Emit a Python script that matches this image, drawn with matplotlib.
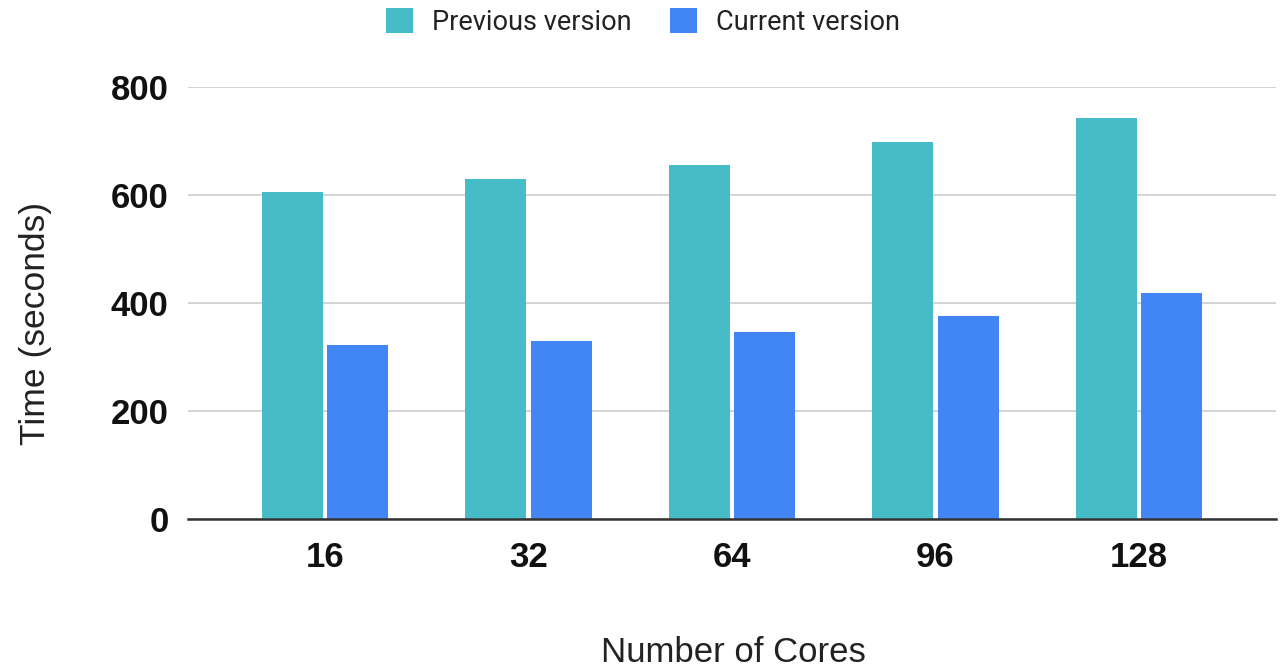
import matplotlib
matplotlib.use("Agg")
import matplotlib.pyplot as plt
import numpy as np

cores = ["16", "32", "64", "96", "128"]
previous_version = [605, 630, 656, 698, 743]
current_version = [322, 330, 346, 376, 418]
y_ticks = [0, 200, 400, 600, 800]

teal = "#46BDC6"
blue = "#4285F4"

fig = plt.figure(figsize=(12.88, 6.71), dpi=100)
ax = fig.add_axes([188 / 1288, 1 - 519 / 671, (1276 - 188) / 1288, (519 - 87) / 671])

x = np.arange(len(cores))
width = 0.30
offset = 0.16
ax.bar(x - offset, previous_version, width, color=teal, label="Previous version", zorder=3)
ax.bar(x + offset, current_version, width, color=blue, label="Current version", zorder=3)

ax.set_xlim(-0.673, len(cores) - 1 + 0.673)
ax.set_ylim(0, 800)
ax.set_yticks(y_ticks)
ax.set_yticklabels([str(v) for v in y_ticks], fontsize=25, fontweight="bold",
                   family="Liberation Sans")
ax.set_xticks(x)
ax.set_xticklabels(cores, fontsize=25, fontweight="bold", family="Liberation Sans")
ax.tick_params(axis="y", length=0, pad=14, colors="#111111")
ax.tick_params(axis="x", length=0, pad=16, colors="#111111")

ax.grid(axis="y", color="#cccccc", linewidth=1.2, zorder=0)
ax.set_axisbelow(True)
for side in ["top", "right", "left"]:
    ax.spines[side].set_visible(False)
ax.spines["bottom"].set_color("#333333")
ax.spines["bottom"].set_linewidth(1.8)
ax.spines["bottom"].set_zorder(4)

fig.text(36 / 1288, 1 - 323 / 671, "Time (seconds)", fontsize=25.5, color="#222222",
         family="Liberation Sans", rotation=90, ha="center", va="center")
fig.text(733 / 1288, 1 - 652 / 671, "Number of Cores", fontsize=25, color="#222222",
         family="Liberation Sans", ha="center", va="center")

leg = fig.legend(loc="center", bbox_to_anchor=(643 / 1288, 1 - 22 / 671), ncol=2,
                 frameon=False, prop={"family": "Roboto", "size": 19.5},
                 handlelength=1.0, handleheight=1.0, handletextpad=0.7,
                 columnspacing=1.4)
for t in leg.get_texts():
    t.set_color("#222222")

fig.savefig("out.png", dpi=100)
